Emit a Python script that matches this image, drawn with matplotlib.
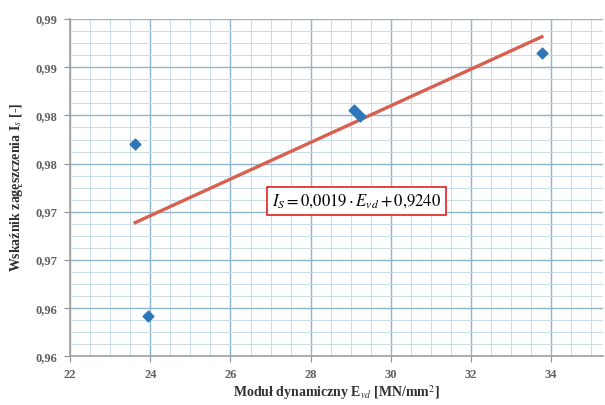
import numpy as np
import matplotlib
matplotlib.use('Agg')
import matplotlib.pyplot as plt
from matplotlib.ticker import MultipleLocator

# measured points
E_vd = [23.62, 23.94, 29.09, 29.22, 33.77]
I_s = [0.9770, 0.9592, 0.9806, 0.9799, 0.9865]

# trendline coefficients shown on the chart
slope = 0.0019
intercept = 0.9240

xticks = [22, 24, 26, 28, 30, 32, 34]
yticks = [0.955, 0.960, 0.965, 0.970, 0.975, 0.980, 0.985, 0.990]
ytick_labels = ['0,96', '0,96', '0,97', '0,97', '0,98', '0,98', '0,99', '0,99']

plt.rcParams['font.family'] = ['Liberation Serif', 'DejaVu Serif']
plt.rcParams['mathtext.fontset'] = 'stix'

fig = plt.figure(figsize=(6.05, 4.05), dpi=100)
ax = fig.add_axes([0.116, 0.12, 0.881, 0.833])

ax.set_xlim(22, 35.3)
ax.set_ylim(0.955, 0.990)

ax.set_xticks(xticks)
ax.set_xticklabels([str(t) for t in xticks])
ax.set_yticks(yticks)
ax.set_yticklabels(ytick_labels)
ax.xaxis.set_minor_locator(MultipleLocator(0.5))
ax.yaxis.set_minor_locator(MultipleLocator(0.00125))

ax.grid(which='major', color='#8fb4cc', linewidth=1.0)
ax.grid(which='minor', color='#c8dce8', linewidth=0.7)
ax.set_axisbelow(True)

ax.tick_params(which='major', direction='out', length=4, color='#909090',
               labelsize=9, labelcolor='#606060', pad=5)
ax.tick_params(which='minor', length=0)
for lab in ax.get_xticklabels() + ax.get_yticklabels():
    lab.set_fontweight('bold')

for s in ['top', 'right']:
    ax.spines[s].set_visible(False)
for s in ['left', 'bottom']:
    ax.spines[s].set_color('#a0a0a0')
    ax.spines[s].set_linewidth(1.2)

# trendline over data range
xl = np.array([min(E_vd), max(E_vd)])
ax.plot(xl, slope * xl + intercept, color='#d9604f', linewidth=2.4, zorder=3)

ax.scatter(E_vd, I_s, marker='D', s=30, color='#2f76b8', zorder=4)

ax.set_xlabel('Moduł dynamiczny E$_{vd}$ [MN/mm$^2$]', fontsize=10,
              fontweight='bold', color='#303030', labelpad=2)
ax.set_ylabel('Wskaźnik zagęszczenia I$_s$ [-]', fontsize=10,
              fontweight='bold', color='#303030', labelpad=8)

ax.text(29.14, 0.9711,
        r'$I_S = 0{,}0019 \cdot E_{vd} + 0{,}9240$',
        fontsize=12, ha='center', va='center', zorder=5,
        bbox=dict(boxstyle='square,pad=0.3', facecolor='white',
                  edgecolor='#e02020', linewidth=1.2))

fig.savefig('out.png', dpi=100)
